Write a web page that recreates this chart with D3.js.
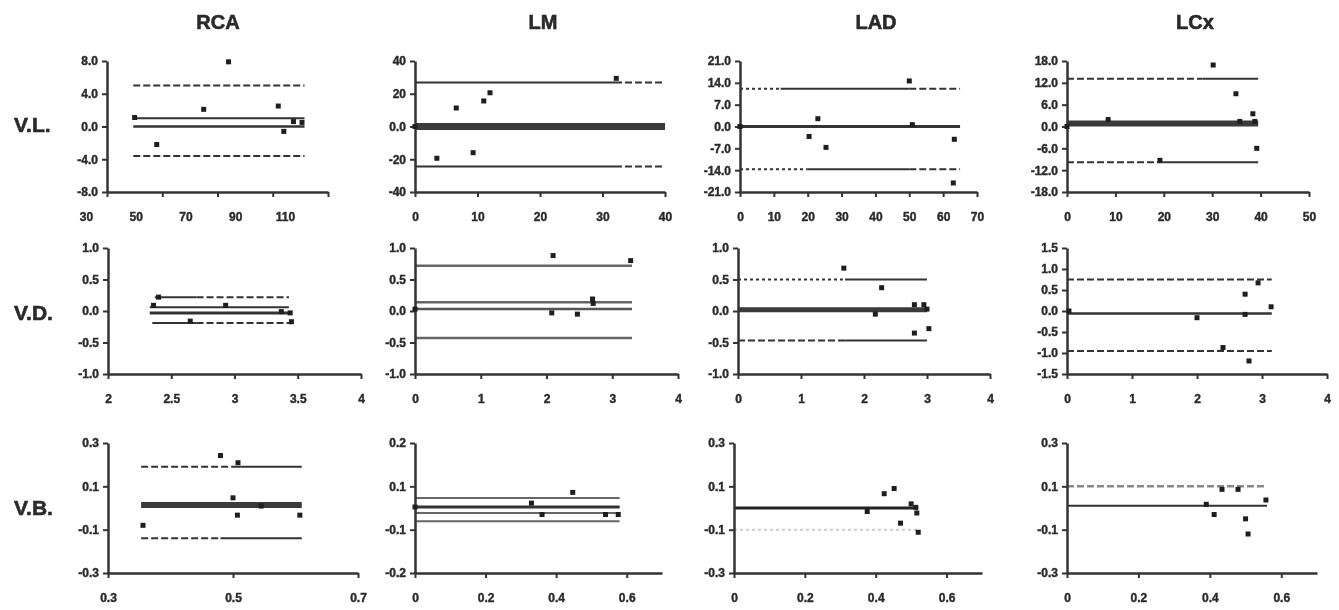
<!DOCTYPE html>
<html lang="en">
<head>
<meta charset="UTF-8">
<title>Bland-Altman plots by vessel</title>
<script src="https://cdn.jsdelivr.net/npm/d3@7"></script>
<style>
  body { margin: 0; background: #fff; }
  svg { display: block; filter: blur(0.45px); }
  text { font-family: "Liberation Sans", Arial, sans-serif; font-weight: bold; fill: #2a2a2a; }
</style>
</head>
<body>
<div id="chart"></div>
<script>
const vessels = ["RCA", "LM", "LAD", "LCx"];
const params = ["V.L.", "V.D.", "V.B."];

// axes, row by row: RCA, LM, LAD, LCx
const xDomains = [
  [[30, 110], [0, 40], [0, 70], [0, 50]],
  [[2, 4], [0, 4], [0, 4], [0, 4]],
  [[0.3, 0.7], [0, 0.7], [0, 0.7], [0, 0.7]]
];
const xTicks = [
  [[30, 50, 70, 90, 110], [0, 10, 20, 30, 40], [0, 10, 20, 30, 40, 50, 60, 70], [0, 10, 20, 30, 40, 50]],
  [[2, 2.5, 3, 3.5, 4], [0, 1, 2, 3, 4], [0, 1, 2, 3, 4], [0, 1, 2, 3, 4]],
  [[0.3, 0.5, 0.7], [0, 0.2, 0.4, 0.6], [0, 0.2, 0.4, 0.6], [0, 0.2, 0.4, 0.6]]
];
const yTicks = [
  [[8, 4, 0, -4, -8], [40, 20, 0, -20, -40], [21, 14, 7, 0, -7, -14, -21], [18, 12, 6, 0, -6, -12, -18]],
  [[1, 0.5, 0, -0.5, -1], [1, 0.5, 0, -0.5, -1], [1, 0.5, 0, -0.5, -1], [1.5, 1, 0.5, 0, -0.5, -1, -1.5]],
  [[0.3, 0.1, -0.1, -0.3], [0.2, 0.0667, -0.0667, -0.2], [0.3, 0.1, -0.1, -0.3], [0.3, 0.1, -0.1, -0.3]]
];
const yLabels = [
  [["8.0", "4.0", "0.0", "-4.0", "-8.0"], ["40", "20", "0.0", "-20", "-40"],
   ["21.0", "14.0", "7.0", "0.0", "-7.0", "-14.0", "-21.0"], ["18.0", "12.0", "6.0", "0.0", "-6.0", "-12.0", "-18.0"]],
  [["1.0", "0.5", "0.0", "-0.5", "-1.0"], ["1.0", "0.5", "0.0", "-0.5", "-1.0"],
   ["1.0", "0.5", "0.0", "-0.5", "-1.0"], ["1.5", "1.0", "0.5", "0.0", "-0.5", "-1.0", "-1.5"]],
  [["0.3", "0.1", "-0.1", "-0.3"], ["0.2", "0.1", "-0.1", "-0.2"],
   ["0.3", "0.1", "-0.1", "-0.3"], ["0.3", "0.1", "-0.1", "-0.3"]]
];

// points [mean, difference]
const rcaVL = [[40, 1.1], [48, -2.2], [65, 2.1], [74, 7.9], [92, 2.5], [94, -0.6], [97.5, 0.6], [100.6, 0.5]];
const lmVL = [[0, 0], [3.5, -19.4], [6.6, 11.3], [9.3, -16], [11, 15.6], [12, 20.6], [32.2, 29.4]];
const ladVL = [[0, 0], [20.4, -3.2], [23, 2.5], [25.4, -6.7], [50, 14.6], [50.9, 0.6], [63.3, -4.1], [63, -18.1]];
const lcxVL = [[0, 0], [8.5, 1.9], [19.2, -9.3], [30.2, 16.9], [34.9, 9], [35.7, 1.4], [38.4, 3.5], [38.8, 1.4], [39.2, -6]];

const rcaVD = [[2.36, 0.09], [2.4, 0.22], [2.93, 0.09], [2.65, -0.16], [3.37, -0.01], [3.45, -0.17], [3.44, -0.03]];
const lmVD = [[0, 0.03], [2.1, 0.88], [3.28, 0.8], [2.08, -0.03], [2.47, -0.05], [2.7, 0.19], [2.71, 0.12]];
const ladVD = [[1.68, 0.68], [2.28, 0.37], [2.18, -0.05], [2.8, 0.1], [2.95, 0.1], [3.0, 0.03], [2.8, -0.35], [3.03, -0.28]];
const lcxVD = [[0.03, 0], [2.0, -0.16], [2.74, -0.08], [2.74, 0.4], [2.94, 0.67], [3.14, 0.1], [2.4, -0.87], [2.8, -1.19]];

const rcaVB = [[0.356, -0.08], [0.48, 0.242], [0.508, 0.209], [0.5, 0.047], [0.507, -0.033], [0.545, 0.009], [0.607, -0.033]];
const lmVB = [[0, 0.003], [0.33, 0.015], [0.36, -0.02], [0.447, 0.048], [0.54, -0.02], [0.576, -0.02]];
const ladVB = [[0.376, -0.016], [0.424, 0.066], [0.452, 0.09], [0.47, -0.07], [0.5, 0.019], [0.513, 0.003], [0.516, -0.023], [0.52, -0.112]];
const lcxVB = [[0.39, 0.017], [0.412, -0.03], [0.434, 0.086], [0.479, 0.086], [0.5, -0.05], [0.507, -0.12], [0.557, 0.037]];

// bias and limits of agreement: [value, from, to]
const rcaVLLines = [[5.0, 39.5, 101.5], [1.0, 39.5, 101.5], [0.0, 39.5, 101.5], [-3.6, 39.5, 101.5]];
const lmVLLines = [[26.9, 0, 40], [0, 0, 40], [-24.4, 0, 40]];
const ladVLLines = [[12.1, 0, 65], [0, 0, 65], [-13.7, 0, 65]];
const lcxVLLines = [[13.1, 0, 39.5], [0.8, 0, 39.5], [-9.8, 0, 39.5]];

const rcaVDLines = [[0.22, 2.37, 3.43], [0.06, 2.33, 3.43], [-0.03, 2.33, 3.45], [-0.19, 2.35, 3.45]];
const lmVDLines = [[0.72, 0, 3.3], [0.14, 0, 3.3], [0.03, 0, 3.3], [-0.43, 0, 3.3]];
const ladVDLines = [[0.5, 0, 3], [0.02, 0, 3], [-0.47, 0, 3]];
const lcxVDLines = [[0.75, 0, 3.15], [-0.06, 0, 3.15], [-0.95, 0, 3.15]];

const rcaVBLines = [[0.19, 0.353, 0.61], [0.014, 0.353, 0.61], [-0.14, 0.353, 0.61]];
const lmVBLines = [[0.031, 0, 0.58], [0.003, 0, 0.58], [-0.015, 0, 0.58], [-0.041, 0, 0.58]];
const ladVBLines = [[0, 0, 0.52], [-0.1, 0, 0.52]];
const lcxVBLines = [[0.1, 0, 0.56], [0.01, 0, 0.56]];

const points = [[rcaVL, lmVL, ladVL, lcxVL], [rcaVD, lmVD, ladVD, lcxVD], [rcaVB, lmVB, ladVB, lcxVB]];
const lines = [[rcaVLLines, lmVLLines, ladVLLines, lcxVLLines],
               [rcaVDLines, lmVDLines, ladVDLines, lcxVDLines],
               [rcaVBLines, lmVBLines, ladVBLines, lcxVBLines]];

// ---- layout & styles ----
const width = 1339, height = 610;
const rowBox = [[61, 192], [248, 374], [443, 573]];
const colBox = [
  [[107, 328], [415, 665], [740, 977], [1067, 1309]],
  [[108, 361], [415, 678], [738, 990], [1067, 1327]],
  [[108, 358], [415, 662], [734, 982], [1067, 1317]]
];
const titleX = [218, 543, 876, 1195];
const rowLabelY = [125, 313, 508];
const ink = "#333";
const D = "7,3", DOT = "3,3";
// per line: stroke width, colour, dash per part (parts split at the x breaks)
const S = (w, c, parts, breaks) => ({ w, c, parts, breaks: breaks || [] });
const styles = [
  [[S(2, ink, [D]), S(2, ink, [null]), S(2.5, ink, [null]), S(2, ink, [D])],
   [S(2, ink, [null, D], [32]), S(7, "#3a3a3a", [null]), S(2, ink, [null, D], [32])],
   [S(2, ink, [DOT, null, D], [12, 50]), S(3, ink, [null]), S(2, ink, [DOT, null, D], [20, 50])],
   [S(2, ink, [D, null], [28]), S(6, "#3a3a3a", [null]), S(2, ink, [D, null], [20])]],
  [[S(2, ink, [null, D], [2.7]), S(2, ink, [null]), S(3, ink, [null]), S(2, ink, [null, D], [2.7])],
   [S(2.5, "#666", [null]), S(2.5, "#666", [null]), S(2.5, "#555", [null]), S(2.5, "#666", [null])],
   [S(2, ink, [DOT, null], [1.7]), S(5, "#3a3a3a", [null]), S(2, ink, [D, null], [1.7])],
   [S(2, ink, [D]), S(2.5, ink, [null]), S(2, ink, [D])]],
  [[S(2, ink, [D, null], [0.5]), S(6, "#3a3a3a", [null]), S(2, ink, [D, null], [0.48])],
   [S(2, "#666", [null]), S(3, ink, [null]), S(2, "#666", [null]), S(2, "#666", [null])],
   [S(3, "#222", [null]), S(2, "#ccc", [DOT])],
   [S(2.5, "#888", [D]), S(2, ink, [null])]]
];
// the RCA V.L. tick labels sit offset from their ticks in the source figure
const labelRangeOverride = { "0-0": [86, 285] };

const svg = d3.select("#chart").append("svg")
  .attr("width", width)
  .attr("height", height)
  .attr("viewBox", [0, 0, width, height]);

svg.append("g")
  .selectAll("text")
  .data(vessels)
  .join("text")
  .attr("x", (d, i) => titleX[i])
  .attr("y", 29)
  .attr("text-anchor", "middle")
  .attr("font-size", 20)
  .attr("stroke", "#2a2a2a")
  .attr("stroke-width", 0.6)
  .text(d => d);

svg.append("g")
  .selectAll("text")
  .data(params)
  .join("text")
  .attr("x", 14)
  .attr("y", (d, i) => rowLabelY[i] + 7)
  .attr("font-size", 21)
  .attr("stroke", "#2a2a2a")
  .attr("stroke-width", 0.6)
  .text(d => d);

for (let r = 0; r < 3; r++) {
  for (let c = 0; c < 4; c++) {
    const [top, bottom] = rowBox[r];
    const [left, right] = colBox[r][c];
    const x = d3.scaleLinear().domain(xDomains[r][c]).range([left, right]);
    const y = d3.scaleLinear().domain(d3.extent(yTicks[r][c])).range([bottom, top]);
    const g = svg.append("g");

    // bias / limit lines
    lines[r][c].forEach((ln, i) => {
      const st = styles[r][c][i];
      const cuts = [ln[1], ...st.breaks, ln[2]];
      for (let k = 0; k < cuts.length - 1; k++) {
        g.append("line")
          .attr("x1", x(cuts[k]))
          .attr("x2", x(cuts[k + 1]))
          .attr("y1", y(ln[0]))
          .attr("y2", y(ln[0]))
          .attr("stroke", st.c)
          .attr("stroke-width", st.w)
          .attr("stroke-dasharray", st.parts[k] || null);
      }
    });

    // axes
    const ya = g.append("g")
      .attr("transform", `translate(${left},0)`)
      .call(d3.axisLeft(y).tickValues(yTicks[r][c])
        .tickFormat((d, i) => yLabels[r][c][i])
        .tickSize(5).tickSizeOuter(0).tickPadding(4));
    const xa = g.append("g")
      .attr("transform", `translate(0,${bottom})`)
      .call(d3.axisBottom(x).tickValues(xTicks[r][c])
        .tickFormat(d => String(d))
        .tickSize(5).tickSizeOuter(0).tickPadding(15));
    [ya, xa].forEach(a => {
      a.select(".domain").attr("stroke", ink).attr("stroke-width", 2.5);
      a.selectAll(".tick line").attr("stroke", ink).attr("stroke-width", 2);
      a.selectAll(".tick text").attr("font-size", 12).attr("fill", "#2a2a2a")
        .attr("stroke", "#2a2a2a").attr("stroke-width", 0.4)
        .attr("font-family", "'Liberation Sans', Arial, sans-serif");
    });
    const over = labelRangeOverride[r + "-" + c];
    if (over) {
      const xl = d3.scaleLinear().domain(xDomains[r][c]).range(over);
      xa.selectAll(".tick text").attr("x", d => xl(d) - x(d));
    }

    // data points
    g.append("g")
      .selectAll("rect")
      .data(points[r][c])
      .join("rect")
      .attr("x", d => x(d[0]) - 2.5)
      .attr("y", d => y(d[1]) - 2.5)
      .attr("width", 5)
      .attr("height", 5)
      .attr("fill", "#1e1e1e");
  }
}
</script>
</body>
</html>
